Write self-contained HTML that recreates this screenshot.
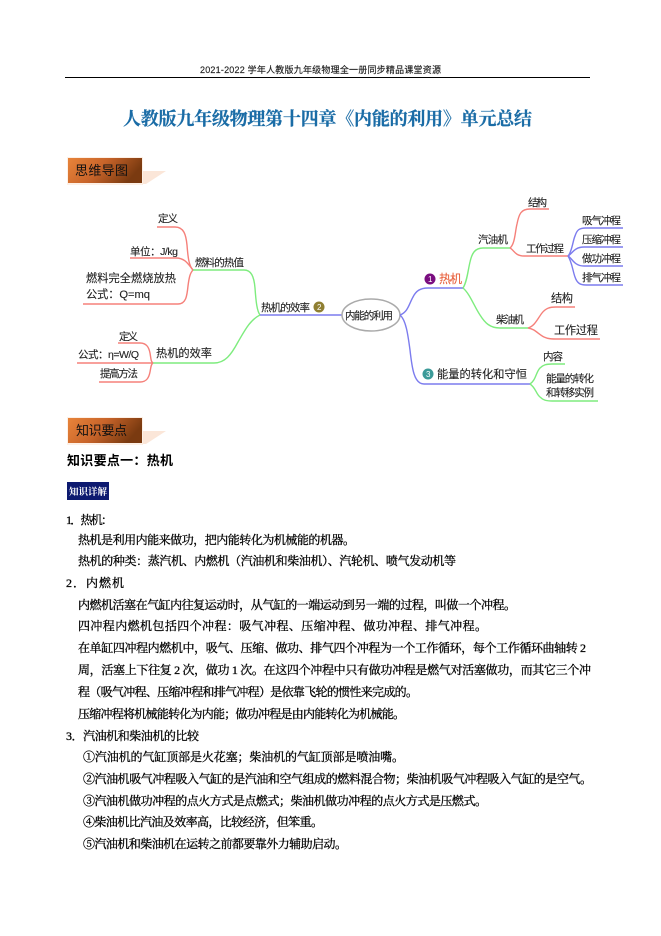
<!DOCTYPE html>
<html lang="zh">
<head>
<meta charset="utf-8">
<style>
html,body{margin:0;padding:0;background:#fff}
svg{display:block}
.b text{font-family:"Liberation Serif","Noto Serif CJK SC",serif;font-size:12px;fill:#000;stroke:#000;stroke-width:.3px}
.m text{font-family:"Liberation Sans","Noto Sans CJK SC",sans-serif;font-size:10.5px;fill:#222;stroke:#222;stroke-width:.12px}
.m path{fill:none;stroke-width:1.4}
.r{stroke:#f5807a}.g{stroke:#7eec7e}.u{stroke:#7c7cee}
</style>
</head>
<body>
<svg width="661" height="936" viewBox="0 0 661 936" xmlns="http://www.w3.org/2000/svg">
<defs>
<linearGradient id="o" x1="0" y1="0" x2="1" y2="0.3"><stop offset="0" stop-color="#e8843a"/><stop offset=".5" stop-color="#c8642a"/><stop offset="1" stop-color="#7a3a10"/></linearGradient>
<filter id="bl" x="-5%" y="-5%" width="110%" height="110%"><feGaussianBlur stdDeviation="0.35"/></filter>
</defs>
<rect width="661" height="936" fill="#fff"/>

<text x="200" y="73" textLength="241" style="font-family:'Liberation Sans','Noto Sans CJK SC',sans-serif;font-size:9px;stroke:#222;stroke-width:.15px" fill="#222">2021-2022 学年人教版九年级物理全一册同步精品课堂资源</text>
<rect x="65" y="77" width="525" height="1" fill="#000"/>

<text x="123" y="125" textLength="409" style="font-family:'Liberation Serif','Noto Serif CJK SC',serif;font-size:18px;font-weight:bold;stroke:#1a6ca6;stroke-width:.25px" fill="#1a6ca6">人教版九年级物理第十四章《内能的利用》单元总结</text>

<polygon points="142,171 166,171 146,184 142,184" fill="#fbe6d8"/>
<rect x="67" y="157" width="76" height="28" fill="#fdf0e6"/>
<rect x="68" y="158" width="74" height="25" fill="url(#o)"/>
<text x="75" y="175" textLength="53" style="font-family:'Liberation Sans','Noto Sans CJK SC',sans-serif;font-size:13px" fill="#111">思维导图</text>

<g class="m" filter="url(#bl)">
<path class="r" d="M157 227H175C184 227 186 235 187 245C188 258 189 266 193 270"/>
<path class="r" d="M130 258H176C185 258 188 264 193 270"/>
<path class="r" d="M83 304H178C186 304 187 296 188 286C189 278 190 273 193 270"/>
<path class="g" d="M193 270H244C251 270 254 276 255 288C256 302 257 311 260 315"/>
<path class="u" d="M260 315H342"/>
<path class="g" d="M260 315C250 320 245 330 238 342C231 355 225 363 214 363H153"/>
<path class="r" d="M118 343H140C147 343 149 348 150 353C151 359 151 362 153 363"/>
<path class="r" d="M77 363H153"/>
<path class="r" d="M99 382H140C147 382 149 377 150 372C151 367 151 364 153 363"/>

<ellipse cx="371" cy="315" rx="29" ry="16" fill="#fff" stroke="#aaa" stroke-width="1.5"/>

<path class="u" d="M400 315C408 312 409 304 413 297C416 291 420 288 428 288H463"/>
<path class="u" d="M400 315C406 320 408 335 410 350C412 368 414 384 424 384H530"/>
<path class="g" d="M463 288C467 282 468 270 470 262C472 253 475 248 483 248H510"/>
<path class="g" d="M463 288C470 294 474 306 480 315C485 323 490 328 500 328H528"/>
<path class="r" d="M510 248C515 244 515 232 517 224C519 214 521 209 530 209H549"/>
<path class="r" d="M510 248C514 250 515 256 524 256H568"/>
<path class="u" d="M568 256C572 252 573 240 575 236C577 230 579 228 586 228H623"/>
<path class="u" d="M568 256C572 254 574 247 584 247H623"/>
<path class="u" d="M568 256C572 258 574 266 584 266H623"/>
<path class="u" d="M568 256C572 262 573 272 575 277C577 283 580 285 586 285H623"/>
<path class="r" d="M528 328C535 326 538 318 542 313C546 308 550 307 556 307H575"/>
<path class="r" d="M528 328C535 329 538 334 544 337C548 339 552 339 558 339H600"/>
<path class="g" d="M530 384C536 380 536 372 540 368C543 365 546 364 552 364H565"/>
<path class="g" d="M530 384C536 388 536 394 540 397C543 400 546 401 552 401H598"/>

<text x="158" y="222" textLength="20">定义</text>
<text x="130" y="255" textLength="48">单位：J/kg</text>
<text x="86" y="282" textLength="90" style="font-size:11.2px">燃料完全燃烧放热</text>
<text x="86" y="298" textLength="64" style="font-size:11.2px">公式：Q=mq</text>
<text x="195" y="266" textLength="49">燃料的热值</text>
<text x="261" y="311" textLength="49">热机的效率</text>
<circle cx="319" cy="307" r="5.5" fill="#8f7f30"/>
<text x="317" y="310" style="font-size:8px;fill:#fff;stroke:none">2</text>
<text x="345" y="319" textLength="48">内能的利用</text>
<text x="119" y="340" textLength="19">定义</text>
<text x="78" y="358" textLength="61">公式：η=W/Q</text>
<text x="100" y="377" textLength="38">提高方法</text>
<text x="156" y="357" textLength="56" style="font-size:11.2px">热机的效率</text>

<circle cx="430" cy="279" r="5.5" fill="#7a0f80"/>
<text x="428" y="282" style="font-size:8px;fill:#fff;stroke:none">1</text>
<text x="439" y="283" textLength="23" style="font-size:12px;fill:#e8603c;stroke:#e8603c">热机</text>
<circle cx="428" cy="374" r="5.5" fill="#3a9a98"/>
<text x="426" y="377" style="font-size:8px;fill:#fff;stroke:none">3</text>
<text x="437" y="378" textLength="90" style="font-size:11.2px">能量的转化和守恒</text>

<text x="478" y="243" textLength="30">汽油机</text>
<text x="528" y="206" textLength="19">结构</text>
<text x="526" y="252" textLength="38">工作过程</text>
<text x="582" y="224" textLength="39">吸气冲程</text>
<text x="582" y="243" textLength="39">压缩冲程</text>
<text x="582" y="262" textLength="39">做功冲程</text>
<text x="582" y="281" textLength="39">排气冲程</text>
<text x="496" y="323" textLength="28">柴油机</text>
<text x="551" y="302" textLength="22" style="font-size:11.2px">结构</text>
<text x="554" y="334" textLength="44" style="font-size:11.2px">工作过程</text>
<text x="543" y="360" textLength="20">内容</text>
<text x="546" y="382" textLength="48">能量的转化</text>
<text x="546" y="396" textLength="48">和转移实例</text>
</g>

<polygon points="142,431 166,431 146,444 142,444" fill="#fbe6d8"/>
<rect x="67" y="417" width="76" height="28" fill="#fdf0e6"/>
<rect x="68" y="418" width="74" height="25" fill="url(#o)"/>
<text x="76" y="435" textLength="51" style="font-family:'Liberation Sans','Noto Sans CJK SC',sans-serif;font-size:13px" fill="#111">知识要点</text>

<text x="67" y="465" textLength="106" style="font-family:'Liberation Sans','Noto Sans CJK SC',sans-serif;font-size:13px;font-weight:bold">知识要点一：热机</text>

<rect x="67" y="482" width="42" height="18" fill="#0d1a70"/>
<text x="69" y="495" textLength="38" style="font-family:'Liberation Serif','Noto Serif CJK SC',serif;font-size:9.5px;font-weight:bold" fill="#fff">知识详解</text>

<g class="b">
<text x="66" y="524" textLength="47">1．热机：</text>
<text x="78" y="544" textLength="277">热机是利用内能来做功，把内能转化为机械能的机器。</text>
<text x="78" y="565" textLength="378">热机的种类：蒸汽机、内燃机（汽油机和柴油机）、汽轮机、喷气发动机等</text>
<text x="66" y="587" textLength="58">2．内燃机</text>
<text x="78" y="609" textLength="438">内燃机活塞在气缸内往复运动时，从气缸的一端运动到另一端的过程，叫做一个冲程。</text>
<text x="78" y="630" textLength="409">四冲程内燃机包括四个冲程：吸气冲程、压缩冲程、做功冲程、排气冲程。</text>
<text x="78" y="652" textLength="508">在单缸四冲程内燃机中，吸气、压缩、做功、排气四个冲程为一个工作循环，每个工作循环曲轴转 2</text>
<text x="78" y="674" textLength="513">周，活塞上下往复 2 次，做功 1 次。在这四个冲程中只有做功冲程是燃气对活塞做功，而其它三个冲</text>
<text x="78" y="696" textLength="340">程（吸气冲程、压缩冲程和排气冲程）是依靠飞轮的惯性来完成的。</text>
<text x="78" y="718" textLength="327">压缩冲程将机械能转化为内能；做功冲程是由内能转化为机械能。</text>
<text x="66" y="740" textLength="133">3．汽油机和柴油机的比较</text>
<text x="83" y="761" textLength="321">①汽油机的气缸顶部是火花塞；柴油机的气缸顶部是喷油嘴。</text>
<text x="83" y="783" textLength="509">②汽油机吸气冲程吸入气缸的是汽油和空气组成的燃料混合物；柴油机吸气冲程吸入气缸的是空气。</text>
<text x="83" y="805" textLength="404">③汽油机做功冲程的点火方式是点燃式；柴油机做功冲程的点火方式是压燃式。</text>
<text x="83" y="826" textLength="240">④柴油机比汽油及效率高，比较经济，但笨重。</text>
<text x="83" y="848" textLength="264">⑤汽油机和柴油机在运转之前都要靠外力辅助启动。</text>
</g>
</svg>
</body>
</html>
